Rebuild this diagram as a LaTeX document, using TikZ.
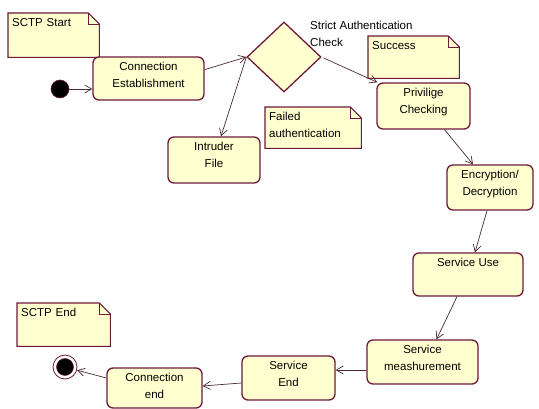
\documentclass[tikz,border=0pt]{standalone}
\usepackage{fontspec}
\setmainfont{Liberation Sans}
\usetikzlibrary{arrows.meta,shapes.geometric,calc}

\definecolor{umledge}{HTML}{6E1A3C}
\definecolor{umlwire}{HTML}{4A2A35}
\definecolor{umlpaper}{HTML}{FFFFD0}
\definecolor{umlrim}{HTML}{D6D2A6}

% pale centre fading to a darker rim
\pgfdeclareradialshading{glow}{\pgfpoint{0bp}{0bp}}{%
  color(0bp)=(umlpaper); color(30bp)=(umlpaper);
  color(50bp)=(umlrim); color(75bp)=(umlrim)}

\pgfdeclarelayer{bg}
\pgfsetlayers{bg,main}

\tikzset{
  umltext/.style={font=\fontsize{11.5}{17}\selectfont},
  statebox/.style={umltext, rectangle, rounded corners=6pt, draw=umledge,
    line width=1.3pt, shading=glow, align=center, inner xsep=3pt,
    inner ysep=5pt, text height=8.5pt},
  twolines/.style={text height=25.5pt},
  choice/.style={diamond, draw=umledge, line width=1.3pt, shading=glow,
    minimum width=74pt, minimum height=70pt, inner sep=0pt},
  notebox/.style={umltext, rectangle, anchor=north west, align=left,
    inner xsep=4pt, inner ysep=5pt, text height=8.5pt},
  lbl/.style={umltext, anchor=north west, align=left, inner sep=0pt},
  initdot/.style={circle, fill=black, draw=umledge, line width=0.6pt,
    minimum size=18pt, inner sep=0pt},
  finaldot/.style={circle, fill=white, draw=umledge, line width=0.8pt,
    minimum size=24pt, inner sep=0pt},
  flow/.style={draw=umlwire, line width=0.7pt,
    -{Straight Barb[length=7pt,width=8pt]}},
  notefill/.style={shading=glow, draw=umledge, line width=1.1pt},
}

% folded-corner sheet drawn behind a note node
\newcommand\notesheet[1]{%
  \path[notefill] (#1.north west) -- ($(#1.north east)+(-11,0)$)
    -- ($(#1.north east)+(0,11)$) -- (#1.south east) -- (#1.south west) -- cycle;
  \draw[umledge, line width=0.9pt] ($(#1.north east)+(-11,0)$)
    |- ($(#1.north east)+(0,11)$);}

\begin{document}
\begin{tikzpicture}[x=1pt,y=-1pt]
\useasboundingbox (0,0) rectangle (539,409);

% notes
\node[notebox, text width=83pt, minimum height=44pt, text depth=25.5pt]
  (startnote) at (8,13) {SCTP Start};
\node[notebox, text width=83pt, minimum height=42pt, text depth=23.5pt]
  (successnote) at (368,36) {Success};
\node[notebox, text width=88pt, minimum height=41pt, text depth=22.5pt]
  (failnote) at (265,107) {Failed\\authentication};
\node[notebox, text width=85pt, minimum height=43pt, text depth=24.5pt]
  (endnote) at (17,303) {SCTP End};
\begin{pgfonlayer}{bg}
  \fill[white] (0,0) rectangle (539,409);
  \notesheet{startnote}
  \notesheet{successnote}
  \notesheet{failnote}
  \notesheet{endnote}
\end{pgfonlayer}

% states
\node[initdot] (init) at (60,89) {};
\node[statebox, twolines, minimum width=111pt, minimum height=43pt, text depth=7.5pt]
  (conn) at (148.5,78.5) {Connection\\Establishment};
\node[choice] (check) at (284,57) {};
\node[lbl] (checklbl) at (310,21) {Strict Authentication\\Check};
\node[statebox, twolines, minimum width=93pt, minimum height=46pt, text depth=10.5pt]
  (priv) at (423.5,106) {Privilige\\Checking};
\node[statebox, twolines, minimum width=92pt, minimum height=46pt, text depth=10.5pt]
  (intr) at (214,160) {Intruder\\File};
\node[statebox, twolines, minimum width=86pt, minimum height=45pt, text depth=9.5pt]
  (enc) at (490,187.5) {Encryption/\\Decryption};
\node[statebox, minimum width=110pt, minimum height=43pt, text depth=24.5pt]
  (use) at (468,274.5) {Service Use};
\node[statebox, twolines, minimum width=111pt, minimum height=44pt, text depth=8.5pt]
  (meas) at (422.5,362) {Service\\meashurement};
\node[statebox, twolines, minimum width=93pt, minimum height=44pt, text depth=8.5pt]
  (send) at (288.5,378) {Service\\End};
\node[statebox, twolines, minimum width=95pt, minimum height=40pt, text depth=4.5pt]
  (cend) at (154.5,388) {Connection\\end};
\node[finaldot] (final) at (65,367) {};
\fill[black, draw=umledge, line width=0.5pt] (final.center) circle (8.5pt);

% transitions
\draw[flow] (init.east) -- (init.east -| conn.west);
\draw[flow] ($(conn.north east)!0.3!(conn.south east)$) -- (check.west);
\draw[flow] (check.west) -- ($(intr.north)+(7,0)$);
\draw[flow] ($(check.east)+(2,1)$) -- ($(priv.north west)+(1,0)$);
\draw[flow] ($(priv.south)+(21,0)$) -- ($(enc.north)+(-17,0)$);
\draw[flow] ($(enc.south)+(-3,0)$) -- ($(use.north)+(7,0)$);
\draw[flow] ($(use.south)+(-11,0)$) -- ($(meas.north)+(14,0)$);
\draw[flow] ($(meas.west)+(0,8)$) -- ($(send.east)+(0,-8)$);
\draw[flow] ($(send.west)+(0,5)$) -- ($(cend.east)+(0,-2)$);
\draw[flow] ($(cend.west)+(0,-10)$) -- (final);
\end{tikzpicture}
\end{document}
